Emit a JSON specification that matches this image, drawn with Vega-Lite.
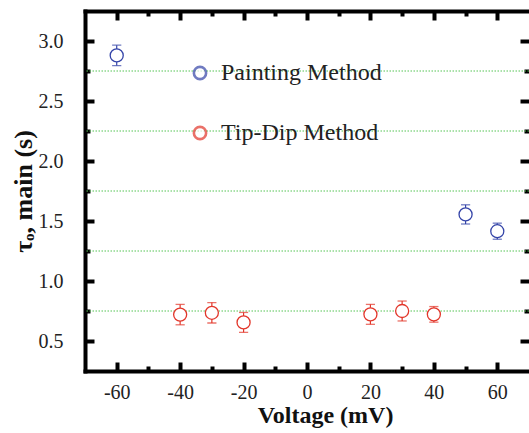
{
  "$schema": "https://vega.github.io/schema/vega-lite/v6.json",
  "width": 444,
  "height": 360,
  "autosize": "none",
  "padding": {"left": 85, "top": 11, "right": 0, "bottom": 62},
  "background": "white",
  "config": {
    "view": {"stroke": null},
    "font": "Liberation Serif"
  },
  "datasets": {
    "tau": [
      {"series": "Painting Method", "v": -60, "tau": 2.88, "lo": 2.795, "hi": 2.965},
      {"series": "Painting Method", "v": 50, "tau": 1.555, "lo": 1.475, "hi": 1.635},
      {"series": "Painting Method", "v": 60, "tau": 1.415, "lo": 1.348, "hi": 1.482},
      {"series": "Tip-Dip Method", "v": -40, "tau": 0.72, "lo": 0.635, "hi": 0.805},
      {"series": "Tip-Dip Method", "v": -30, "tau": 0.735, "lo": 0.65, "hi": 0.82},
      {"series": "Tip-Dip Method", "v": -20, "tau": 0.655, "lo": 0.572, "hi": 0.738},
      {"series": "Tip-Dip Method", "v": 20, "tau": 0.722, "lo": 0.639, "hi": 0.805},
      {"series": "Tip-Dip Method", "v": 30, "tau": 0.75, "lo": 0.667, "hi": 0.833},
      {"series": "Tip-Dip Method", "v": 40, "tau": 0.722, "lo": 0.657, "hi": 0.787}
    ],
    "grid": [{"g": 0.75}, {"g": 1.25}, {"g": 1.75}, {"g": 2.25}, {"g": 2.75}]
  },
  "data": {"name": "tau"},
  "layer": [
    {
      "data": {"name": "grid"},
      "mark": {"type": "rule", "stroke": "#55c455", "strokeWidth": 1, "strokeDash": [1.5, 1.5]},
      "encoding": {
        "y": {"field": "g", "type": "quantitative", "scale": {"domain": [0.25, 3.25], "nice": false, "zero": false}, "axis": null}
      }
    },
    {
      "mark": {"type": "point", "opacity": 0},
      "encoding": {
        "x": {
          "field": "v", "type": "quantitative",
          "scale": {"domain": [-70, 70], "nice": false, "zero": false},
          "axis": {
            "orient": "bottom", "title": null, "labels": false, "domain": false,
            "values": [-50, -30, -10, 10, 30, 50],
            "tickColor": "black", "tickWidth": 4, "tickSize": -5, "grid": false
          }
        },
        "y": {
          "field": "tau", "type": "quantitative",
          "scale": {"domain": [0.25, 3.25], "nice": false, "zero": false},
          "axis": {
            "orient": "left", "title": null, "labels": false, "domain": false,
            "values": [0.75, 1.25, 1.75, 2.25, 2.75],
            "tickColor": "black", "tickWidth": 4, "tickSize": -5, "grid": false
          }
        }
      }
    },
    {
      "mark": {"type": "rule", "strokeWidth": 1.2},
      "encoding": {
        "x": {"field": "v", "type": "quantitative", "scale": {"domain": [-70, 70], "nice": false, "zero": false}, "axis": null},
        "y": {"field": "lo", "type": "quantitative", "scale": {"domain": [0.25, 3.25], "nice": false, "zero": false}, "axis": null},
        "y2": {"field": "hi"},
        "stroke": {"field": "series", "type": "nominal", "scale": {"domain": ["Painting Method", "Tip-Dip Method"], "range": ["#3444a8", "#e2362a"]}}
      }
    },
    {
      "mark": {"type": "tick", "orient": "horizontal", "size": 8, "thickness": 0.1, "filled": false, "strokeWidth": 1.2},
      "encoding": {
        "x": {"field": "v", "type": "quantitative", "scale": {"domain": [-70, 70], "nice": false, "zero": false}, "axis": null},
        "y": {"field": "lo", "type": "quantitative", "scale": {"domain": [0.25, 3.25], "nice": false, "zero": false}, "axis": null},
        "stroke": {"field": "series", "type": "nominal", "scale": {"domain": ["Painting Method", "Tip-Dip Method"], "range": ["#3444a8", "#e2362a"]}}
      }
    },
    {
      "mark": {"type": "tick", "orient": "horizontal", "size": 8, "thickness": 0.1, "filled": false, "strokeWidth": 1.2},
      "encoding": {
        "x": {"field": "v", "type": "quantitative", "scale": {"domain": [-70, 70], "nice": false, "zero": false}, "axis": null},
        "y": {"field": "hi", "type": "quantitative", "scale": {"domain": [0.25, 3.25], "nice": false, "zero": false}, "axis": null},
        "stroke": {"field": "series", "type": "nominal", "scale": {"domain": ["Painting Method", "Tip-Dip Method"], "range": ["#3444a8", "#e2362a"]}}
      }
    },
    {
      "mark": {"type": "point", "shape": "circle", "filled": false, "fill": "white", "fillOpacity": 1, "strokeWidth": 1.3, "size": 170, "opacity": 1},
      "encoding": {
        "x": {
          "field": "v", "type": "quantitative",
          "scale": {"domain": [-70, 70], "nice": false, "zero": false},
          "axis": {
            "orient": "bottom",
            "values": [-60, -40, -20, 0, 20, 40, 60],
            "labelExpr": "'' + datum.value",
            "title": "Voltage (mV)",
            "titleFont": "Liberation Serif", "titleFontSize": 24, "titleFontWeight": "bold", "titleColor": "#111",
            "titlePadding": 1, "titleX": 240,
            "labelFont": "Liberation Serif", "labelFontSize": 20, "labelColor": "#222", "labelPadding": 20,
            "labelFlush": false, "labelOverlap": false,
            "domainColor": "black", "domainWidth": 4, "domainCap": "square",
            "tickColor": "black", "tickWidth": 4, "tickSize": -9,
            "grid": false
          }
        },
        "y": {
          "field": "tau", "type": "quantitative",
          "scale": {"domain": [0.25, 3.25], "nice": false, "zero": false},
          "axis": {
            "orient": "left",
            "values": [0.5, 1, 1.5, 2, 2.5, 3],
            "format": ".1f",
            "title": "τₒ, main (s)",
            "titleFont": "Liberation Serif", "titleFontSize": 26, "titleFontWeight": "bold", "titleColor": "#111",
            "titlePadding": 2,
            "labelFont": "Liberation Serif", "labelFontSize": 20, "labelColor": "#222", "labelPadding": 31,
            "labelFlush": false, "labelOverlap": false,
            "domainColor": "black", "domainWidth": 4, "domainCap": "square",
            "tickColor": "black", "tickWidth": 4, "tickSize": -9,
            "grid": false
          }
        },
        "stroke": {
          "field": "series", "type": "nominal",
          "scale": {"domain": ["Painting Method", "Tip-Dip Method"], "range": ["#3444a8", "#e2362a"]},
          "legend": {
            "orient": "none", "legendX": 103, "legendY": 50, "title": null,
            "symbolType": "circle", "symbolSize": 150, "symbolStrokeWidth": 2.6, "symbolFillColor": "white", "symbolOpacity": 1,
            "labelFont": "Liberation Serif", "labelFontSize": 24, "labelColor": "#222", "labelOffset": 9, "labelLimit": 400,
            "rowPadding": 36, "padding": 0
          }
        }
      }
    },
    {
      "mark": {"type": "point", "opacity": 0},
      "encoding": {
        "x": {
          "field": "v", "type": "quantitative",
          "scale": {"domain": [-70, 70], "nice": false, "zero": false},
          "axis": {
            "orient": "top", "title": null, "labels": false,
            "values": [-60, -40, -20, 0, 20, 40, 60],
            "domainColor": "black", "domainWidth": 4, "domainCap": "square",
            "tickColor": "black", "tickWidth": 4, "tickSize": -9, "grid": false
          }
        },
        "y": {
          "field": "tau", "type": "quantitative",
          "scale": {"domain": [0.25, 3.25], "nice": false, "zero": false},
          "axis": {
            "orient": "right", "title": null, "labels": false, "domain": false,
            "values": [0.5, 1, 1.5, 2, 2.5, 3],
            "tickColor": "black", "tickWidth": 4, "tickSize": -9, "grid": false
          }
        }
      }
    },
    {
      "mark": {"type": "point", "opacity": 0},
      "encoding": {
        "x": {
          "field": "v", "type": "quantitative",
          "scale": {"domain": [-70, 70], "nice": false, "zero": false},
          "axis": {
            "orient": "top", "title": null, "labels": false, "domain": false,
            "values": [-50, -30, -10, 10, 30, 50],
            "tickColor": "black", "tickWidth": 4, "tickSize": -5, "grid": false
          }
        },
        "y": {
          "field": "tau", "type": "quantitative",
          "scale": {"domain": [0.25, 3.25], "nice": false, "zero": false},
          "axis": {
            "orient": "right", "title": null, "labels": false, "domain": false,
            "values": [0.75, 1.25, 1.75, 2.25, 2.75],
            "tickColor": "black", "tickWidth": 4, "tickSize": -5, "grid": false
          }
        }
      }
    }
  ],
  "resolve": {"axis": {"x": "independent", "y": "independent"}}
}
